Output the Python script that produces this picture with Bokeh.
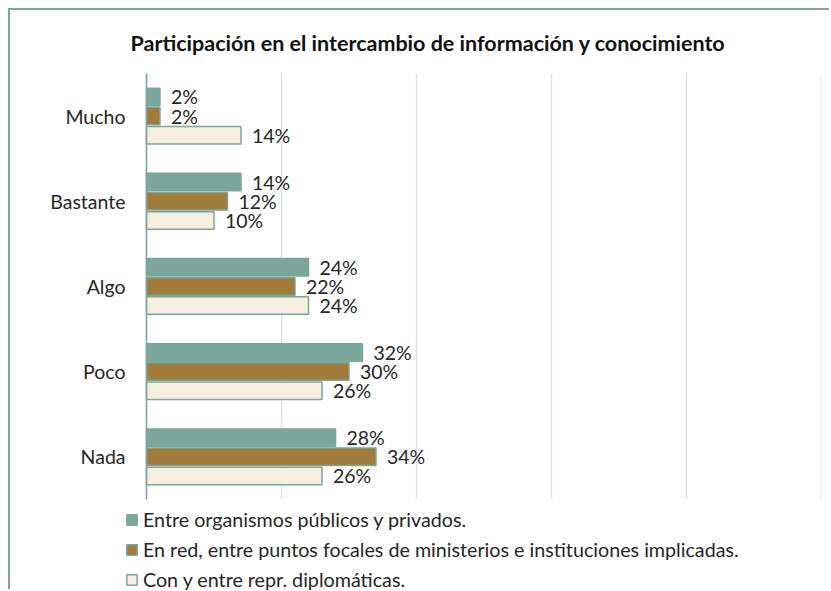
from bokeh.plotting import figure
from bokeh.models import (ColumnDataSource, FixedTicker, Legend, LegendItem, Range1d)
from bokeh.transform import dodge
from bokeh.core.properties import value
from bokeh.embed import file_html
from bokeh.resources import INLINE

# ---- data ----
categories = ["Mucho", "Bastante", "Algo", "Poco", "Nada"]
entre_organismos = [0.02, 0.14, 0.24, 0.32, 0.28]
en_red = [0.02, 0.12, 0.22, 0.30, 0.34]
repr_diplomaticas = [0.14, 0.10, 0.24, 0.26, 0.26]
series_names = [
    "Entre organismos públicos y privados.",
    "En red, entre puntos focales de ministerios e instituciones implicadas.",
    "Con y entre repr. diplomáticas.",
]
title_text = "Participación en el intercambio de información y conocimiento"
x_ticks = [0, 0.2, 0.4, 0.6, 0.8, 1.0]

# ---- styles ----
FONT = "Lato"
TEXT_COLOR = "#262626"
colors = ["#7BA69B", "#A07B3A", "#F6EFDF"]
outline = "#7BA69B"
grid_color = "#D9E4E1"
offsets = [0.225, 0.0, -0.225]

n = len(categories)
ypos = [n - 1 - i for i in range(n)]          # Mucho on top
src = ColumnDataSource(dict(
    y=ypos,
    s0=entre_organismos, s1=en_red, s2=repr_diplomaticas,
    l0=[f"{round(v * 100)}%" for v in entre_organismos],
    l1=[f"{round(v * 100)}%" for v in en_red],
    l2=[f"{round(v * 100)}%" for v in repr_diplomaticas],
))
grid_src = ColumnDataSource(dict(x=x_ticks, y0=[-0.5] * len(x_ticks),
                                 y1=[n - 0.5] * len(x_ticks)))

# frame: x 10..821 px (value 0 at 146 px), y 71..591 px (categories in 71..498)
p = figure(width=821, height=581, output_backend="svg", toolbar_location=None,
           x_range=Range1d(-136 / 675, 1.0),
           y_range=Range1d(n - 0.5 - 520 / 85.5, n - 0.5),
           min_border_left=0, min_border_right=10, min_border_top=61,
           min_border_bottom=0)
p.styles = {"margin-left": "8px", "margin-top": "8px",
            "border-top": "2px solid #7BA69B", "border-left": "2px solid #7BA69B"}
p.outline_line_color = None
p.background_fill_color = "white"
p.border_fill_color = "white"
p.grid.visible = False
p.xaxis.visible = False

p.title.text = title_text
p.title.align = "left"
p.title.offset = 120
p.title.standoff = 35
p.title.text_font = FONT
p.title.text_font_style = "bold"
p.title.text_font_size = "21.5px"
p.title.text_color = "#111111"

# vertical grid lines limited to the category area
p.segment(x0="x", y0="y0", x1="x", y1="y1", source=grid_src,
          line_color=grid_color, line_width=1.5)

renderers = []
for i in range(3):
    r = p.hbar(y=dodge("y", offsets[i]), right=f"s{i}", left=0,
               height=0.205, source=src, fill_color=colors[i],
               line_color=outline, line_width=1.5)
    renderers.append(r)
    p.text(x=f"s{i}", y=dodge("y", offsets[i]), text=f"l{i}",
           source=src, x_offset=11, text_baseline="middle", text_align="left",
           text_font=value(FONT), text_font_size="19.5px", text_color=TEXT_COLOR)

yax = p.yaxis[0]
yax.fixed_location = 0
yax.bounds = (-0.5, n - 0.5)
yax.ticker = FixedTicker(ticks=ypos)
yax.major_label_overrides = {yv: c for yv, c in zip(ypos, categories)}
yax.axis_line_color = outline
yax.axis_line_width = 1.5
yax.major_tick_line_color = None
yax.minor_tick_line_color = None
yax.major_tick_out = 0
yax.major_tick_in = 0
yax.major_label_standoff = 21
yax.major_label_text_font = FONT
yax.major_label_text_font_size = "19.5px"
yax.major_label_text_color = TEXT_COLOR

legend = Legend(items=[LegendItem(label=series_names[i], renderers=[renderers[i]])
                       for i in range(3)],
                location=(115, 0), orientation="vertical",
                glyph_width=13, glyph_height=13, label_standoff=5,
                label_height=22, spacing=7, padding=0, margin=0,
                border_line_color=None, background_fill_alpha=0,
                label_text_font=FONT, label_text_font_size="19.7px",
                label_text_color=TEXT_COLOR)
p.add_layout(legend, "center")

open("out.html", "w").write(file_html(p, INLINE))
